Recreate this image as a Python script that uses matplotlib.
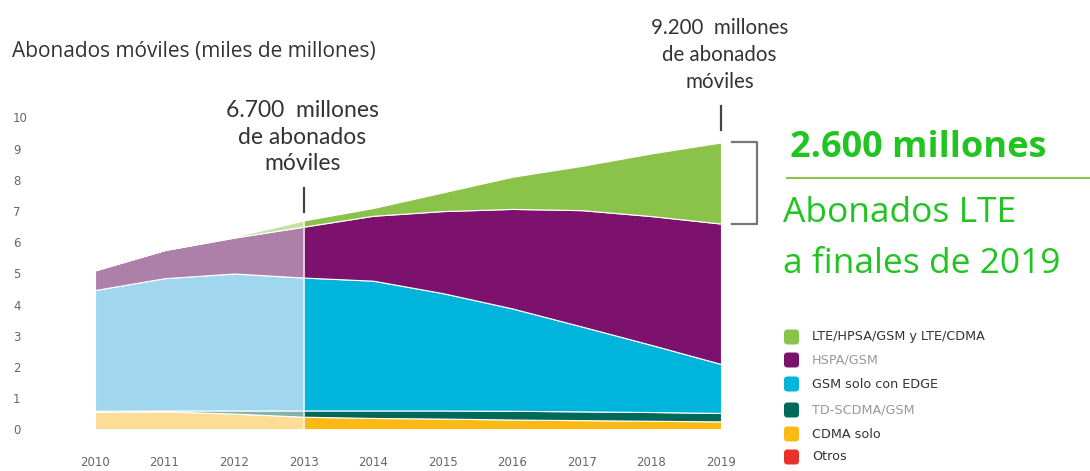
import matplotlib.pyplot as plt
from matplotlib.patches import FancyBboxPatch

# Abonados móviles por tecnología (miles de millones)
years = [2010, 2011, 2012, 2013, 2014, 2015, 2016, 2017, 2018, 2019]
otros = [0.01, 0.01, 0.01, 0.01, 0.01, 0.01, 0.01, 0.01, 0.01, 0.01]
cdma = [0.55, 0.57, 0.50, 0.40, 0.36, 0.34, 0.31, 0.29, 0.27, 0.25]
td_scdma = [0.04, 0.03, 0.10, 0.20, 0.24, 0.26, 0.28, 0.28, 0.28, 0.27]
gsm_edge = [3.87, 4.24, 4.39, 4.26, 4.16, 3.76, 3.28, 2.72, 2.15, 1.57]
hspa = [0.63, 0.90, 1.15, 1.63, 2.08, 2.63, 3.19, 3.73, 4.13, 4.50]
lte = [0.00, 0.00, 0.03, 0.20, 0.25, 0.60, 1.03, 1.42, 2.01, 2.60]

labels = ["Otros", "CDMA solo", "TD-SCDMA/GSM", "GSM solo con EDGE",
          "HSPA/GSM", "LTE/HPSA/GSM y LTE/CDMA"]
yticks = [0, 1, 2, 3, 4, 5, 6, 7, 8, 9, 10]

colors = ["#e8312a", "#fdb913", "#00695a", "#00b4dc", "#7d116e", "#8bc34a"]
light = ["#f4a09c", "#fddc96", "#80b4ac", "#a0d7ee", "#ac80a8", "#c5e2a4"]
label_colors = ["#333333", "#333333", "#999999", "#333333", "#999999", "#333333"]
green_txt = "#22c422"

series = [otros, cdma, td_scdma, gsm_edge, hspa, lte]
totals = [sum(v) for v in zip(*series)]

W, H = 1090, 471
fig = plt.figure(figsize=(W / 100, H / 100), dpi=100)


def fx(px):
    return px / W


def fy(py):
    return 1 - py / H


ax = fig.add_axes([fx(95), fy(429.5), fx(721) - fx(95), fy(117.5) - fy(429.5)])

# historico (2010-2013) en tonos claros, prevision (2013-2019) en color pleno
ax.stackplot(years[:4], *[s[:4] for s in series], colors=light,
             edgecolor="white", linewidth=0.8)
ax.stackplot(years[3:], *[s[3:] for s in series], colors=colors,
             edgecolor="white", linewidth=0.8)

ax.set_xlim(2010, 2019)
ax.set_ylim(0, 10)
ax.set_xticks(years)
ax.set_yticks(yticks)
ax.tick_params(axis="both", length=0, labelsize=8.5, labelcolor="#666666")
ax.tick_params(axis="x", pad=19)
ax.tick_params(axis="y", pad=59)
for t in ax.get_yticklabels():
    t.set_ha("left")
for s in ax.spines.values():
    s.set_visible(False)

fig.text(fx(12), fy(51), "Abonados móviles (miles de millones)",
         fontsize=15, color="#333333", va="center", ha="left",
         family="Open Sans")

# marcas de total en 2013 y 2019
for i, txt, fs, ls in [(3, "6.700  millones\nde abonados\nmóviles", 16.5, 1.33),
                       (9, "9.200  millones\nde abonados\nmóviles", 14.8, 1.45)]:
    y0 = totals[i] + (0.28 if i == 3 else 0.4)
    y1 = y0 + 0.76
    ax.plot([years[i], years[i]], [y0, y1], color="#444444", lw=1.6,
            clip_on=False)
    ax.annotate(txt, xy=(years[i], y1), xytext=(-1, 10),
                textcoords="offset points", ha="center", va="bottom",
                fontsize=fs, color="#333333",
                linespacing=ls, family="Lato", annotation_clip=False)

# llave sobre la capa LTE de 2019
top = totals[9]
bottom = totals[9] - lte[9]
bx0, bx1 = 2019.16, 2019.52
ax.plot([bx0, bx1, bx1, bx0], [top, top, bottom, bottom], color="#777777",
        lw=1.6, clip_on=False, solid_joinstyle="round")

fig.text(fx(790), fy(148), "2.600 millones", fontsize=26, weight="bold",
         color=green_txt, va="center", ha="left", family="Open Sans")
fig.add_artist(plt.Line2D([fx(787), fx(1090)], [fy(178), fy(178)],
                          color="#8bc34a", lw=1.5))
fig.text(fx(783), fy(213), "Abonados LTE", fontsize=25.5, color=green_txt,
         va="center", ha="left", family="Open Sans")
fig.text(fx(783), fy(264), "a finales de 2019", fontsize=25.5, color=green_txt,
         va="center", ha="left", family="Open Sans")

# leyenda con cuadrados redondeados
lg = fig.add_axes([fx(775), fy(471), fx(1090) - fx(775), fy(320) - fy(471)])
lg.set_xlim(775, 1090)
lg.set_ylim(471, 320)
lg.axis("off")
rows = [457, 434, 410, 384, 360, 337]
for yc, c, lab, lc in zip(rows, colors, labels, label_colors):
    lg.add_patch(FancyBboxPatch((784, yc - 7.5), 15, 15,
                                boxstyle="round,pad=0,rounding_size=3.5",
                                fc=c, ec="none"))
    lg.text(812, yc, lab, fontsize=9.2, color=lc, va="center", ha="left")

fig.savefig("out.png", dpi=100)
